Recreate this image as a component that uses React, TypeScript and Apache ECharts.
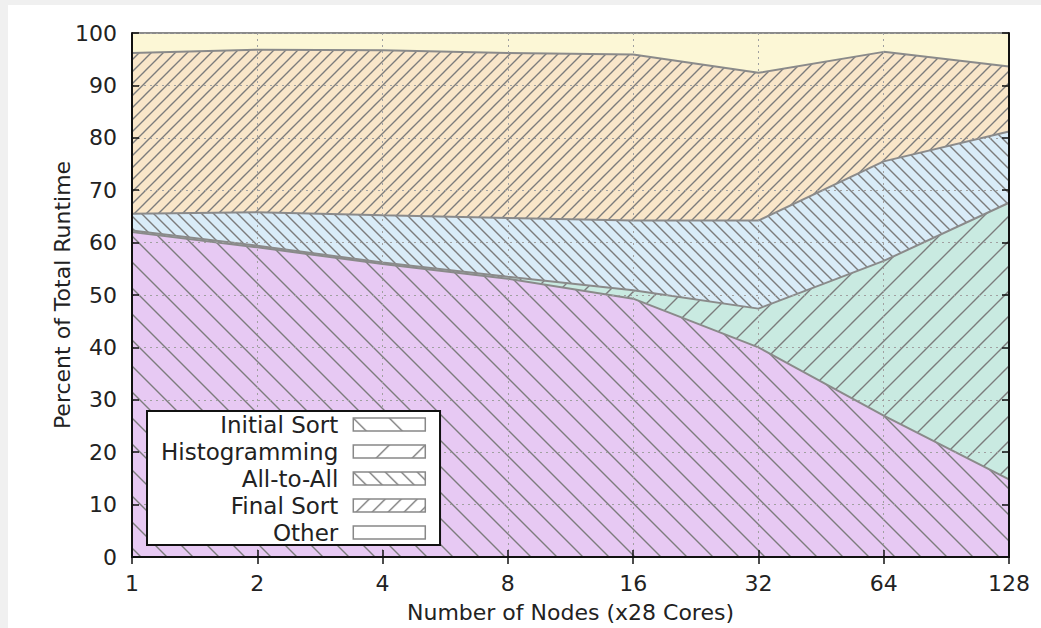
import React, { useEffect, useRef } from 'react';
import * as echarts from 'echarts';

const nodes = ['1', '2', '4', '8', '16', '32', '64', '128'];
const initialSort = [62.0, 59.1, 55.9, 53.1, 49.3, 40.0, 27.0, 14.8];
const histogramming = [0.3, 0.3, 0.3, 0.4, 1.6, 7.4, 29.5, 52.8];
const allToAll = [3.2, 6.4, 9.0, 11.2, 13.3, 16.8, 19.0, 13.6];
const finalSort = [30.7, 31.0, 31.5, 31.5, 31.7, 28.2, 20.9, 12.4];
const other = [3.8, 3.2, 3.3, 3.8, 4.1, 7.6, 3.6, 6.4];
const yTicks = [0, 100, 10];

const FONT = 'DejaVu Sans';
const TEXT = '#222';

function hatch(bg: string, size: number, dir: string, lineColor = '#7c7c7c', lw = 1.4) {
  const c = document.createElement('canvas');
  c.width = size;
  c.height = size;
  const ctx = c.getContext('2d')!;
  if (bg) {
    ctx.fillStyle = bg;
    ctx.fillRect(0, 0, size, size);
  }
  if (dir) {
    ctx.strokeStyle = lineColor;
    ctx.lineWidth = lw;
    ctx.beginPath();
    for (const k of [-1, 0, 1, 2]) {
      if (dir === '/') {
        const cc = k * size;
        ctx.moveTo(cc + size, -size);
        ctx.lineTo(-size, cc + size);
      } else {
        const cc = k * size - size;
        ctx.moveTo(-size, -size - cc);
        ctx.lineTo(2 * size, 2 * size - cc);
      }
    }
    ctx.stroke();
  }
  return { image: c, repeat: 'repeat' } as any;
}

export default function App() {
  const ref = useRef<HTMLDivElement>(null);
  useEffect(() => {
    if (!ref.current) return;
    const chart = echarts.init(ref.current, undefined, { renderer: 'svg' });

    const fills = [
      hatch('#e7c9f3', 26, '\\'),
      hatch('#c9eae1', 25, '/'),
      hatch('#d9ecf8', 12, '\\'),
      hatch('#f9e6c9', 12, '/'),
      hatch('#fcf7d6', 12, ''),
    ];
    const legendFills = [
      hatch('#ffffff', 36, '\\', '#777', 1.3),
      hatch('#ffffff', 36, '/', '#777', 1.3),
      hatch('#ffffff', 16, '\\', '#777', 1.3),
      hatch('#ffffff', 16, '/', '#777', 1.3),
      hatch('#ffffff', 16, '', '#777', 1.3),
    ];
    const names = ['Initial Sort', 'Histogramming', 'All-to-All', 'Final Sort', 'Other'];
    const values = [initialSort, histogramming, allToAll, finalSort, other];

    const splitStyle = { color: '#a0a0a0', width: 1, type: [2, 4] as any };
    const tick = { show: true, inside: true, length: 7, lineStyle: { color: '#111', width: 1.5 } };
    const frame = { show: true, lineStyle: { color: '#111', width: 2 } };

    chart.setOption({
      animation: false,
      grid: { left: 132, right: 32, top: 33, bottom: 71 },
      legend: {
        orient: 'vertical',
        left: 147,
        top: 411,
        align: 'right',
        icon: 'rect',
        itemWidth: 72,
        itemHeight: 13,
        itemGap: 4,
        padding: [2, 14, 1, 14],
        backgroundColor: '#fff',
        borderColor: '#111',
        borderWidth: 2,
        selectedMode: false,
        z: 20,
        textStyle: { fontFamily: FONT, fontSize: 23, color: TEXT, lineHeight: 23, padding: [0, 10, 0, 0] },
        data: names.map((n, i) => ({
          name: n,
          itemStyle: { color: legendFills[i], borderColor: '#888', borderWidth: 1.5 },
        })),
      },
      xAxis: [
        {
          type: 'category',
          data: nodes,
          boundaryGap: false,
          position: 'bottom',
          z: 10,
          axisLine: frame,
          axisTick: tick,
          axisLabel: { fontFamily: FONT, fontSize: 22, color: TEXT, margin: 15 },
          splitLine: { show: true, lineStyle: splitStyle },
          name: 'Number of Nodes (x28 Cores)',
          nameLocation: 'middle',
          nameGap: 44,
          nameMoveOverlap: false,
          nameTextStyle: { fontFamily: FONT, fontSize: 22, color: TEXT },
        },
        {
          type: 'category',
          data: nodes,
          boundaryGap: false,
          position: 'top',
          z: 10,
          axisLine: frame,
          axisTick: tick,
          axisLabel: { show: false },
          splitLine: { show: false },
        },
      ],
      yAxis: [
        {
          type: 'value',
          min: yTicks[0],
          max: yTicks[1],
          interval: yTicks[2],
          position: 'left',
          z: 10,
          axisLine: frame,
          axisTick: tick,
          axisLabel: { fontFamily: FONT, fontSize: 22, color: TEXT, margin: 15 },
          splitLine: { show: true, lineStyle: splitStyle },
          name: 'Percent of Total Runtime',
          nameLocation: 'middle',
          nameGap: 59,
          nameMoveOverlap: false,
          nameTextStyle: { fontFamily: FONT, fontSize: 22, color: TEXT },
        },
        {
          type: 'value',
          min: yTicks[0],
          max: yTicks[1],
          interval: yTicks[2],
          position: 'right',
          z: 10,
          axisLine: frame,
          axisTick: tick,
          axisLabel: { show: false },
          splitLine: { show: false },
        },
      ],
      series: names.map((n, i) => ({
        name: n,
        type: 'line',
        stack: 'total',
        data: values[i],
        symbol: 'none',
        silent: true,
        itemStyle: { color: '#888' },
        lineStyle: { color: '#8a8a8a', width: 2 },
        areaStyle: { color: fills[i], opacity: 1 },
        emphasis: { disabled: true },
      })),
    });
    return () => chart.dispose();
  }, []);

  return (
    <div style={{ position: 'fixed', left: 0, top: 0, width: 1041, height: 628, background: '#f0f0f0' }}>
      <div style={{ position: 'absolute', left: 8, top: 5, right: 0, bottom: 0, background: '#fff' }} />
      <div ref={ref} style={{ position: 'absolute', left: 0, top: 0, width: 1041, height: 628 }} />
    </div>
  );
}
